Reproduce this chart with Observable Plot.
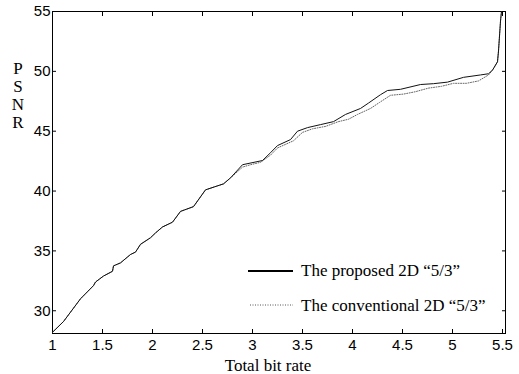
<!DOCTYPE html>
<html>
<head>
<meta charset="utf-8">
<script src="https://cdn.jsdelivr.net/npm/d3@7"></script>
<script src="https://cdn.jsdelivr.net/npm/@observablehq/plot@0.6"></script>
<style>
  html, body { margin: 0; padding: 0; background: #fff; }
  #wrap { position: relative; width: 519px; height: 374px; }
  #legend { position: absolute; left: 0; top: 0; pointer-events: none; }
</style>
</head>
<body>
<div id="wrap"></div>
<script>
const proposedX = [1.00, 1.11, 1.28, 1.41, 1.43, 1.51, 1.60, 1.61, 1.68, 1.78, 1.83, 1.88, 1.98, 2.03, 2.10, 2.20, 2.28, 2.41, 2.53, 2.71, 2.78, 2.90, 3.10, 3.18, 3.25, 3.38, 3.45, 3.55, 3.68, 3.81, 3.93, 4.08, 4.16, 4.28, 4.35, 4.48, 4.68, 4.81, 4.95, 5.11, 5.28, 5.36, 5.40, 5.45, 5.46, 5.48, 5.49];
const proposedY = [28.2, 29.1, 31.0, 32.1, 32.4, 32.9, 33.3, 33.75, 34.0, 34.7, 34.9, 35.55, 36.1, 36.5, 37.0, 37.4, 38.3, 38.7, 40.1, 40.6, 41.1, 42.2, 42.55, 43.2, 43.8, 44.3, 45.0, 45.3, 45.55, 45.8, 46.4, 46.9, 47.35, 48.05, 48.4, 48.5, 48.9, 48.97, 49.1, 49.5, 49.7, 49.8, 50.1, 50.8, 51.7, 54.2, 55.0];

const conventionalX = [1.00, 1.11, 1.28, 1.41, 1.43, 1.51, 1.60, 1.61, 1.68, 1.78, 1.83, 1.88, 1.98, 2.03, 2.10, 2.20, 2.28, 2.41, 2.53, 2.71, 2.78, 2.90, 2.98, 3.08, 3.18, 3.25, 3.41, 3.50, 3.60, 3.73, 3.86, 3.96, 4.05, 4.18, 4.27, 4.38, 4.51, 4.63, 4.76, 4.89, 5.01, 5.14, 5.26, 5.36, 5.40, 5.45, 5.46, 5.48, 5.49];
const conventionalY = [28.2, 29.1, 31.0, 32.1, 32.4, 32.9, 33.3, 33.75, 34.0, 34.7, 34.9, 35.55, 36.1, 36.5, 37.0, 37.4, 38.3, 38.7, 40.1, 40.6, 41.1, 42.0, 42.2, 42.4, 43.0, 43.6, 44.2, 44.9, 45.2, 45.4, 45.8, 46.0, 46.4, 46.9, 47.4, 48.0, 48.1, 48.3, 48.6, 48.75, 49.0, 49.0, 49.2, 49.7, 50.1, 50.8, 51.7, 54.2, 55.0];

const xTicks = [1, 1.5, 2, 2.5, 3, 3.5, 4, 4.5, 5, 5.5];
const xTickLabels = ["1", "1.5", "2", "2.5", "3", "3.5", "4", "4.5", "5", "5.5"];
const yTicks = [30, 35, 40, 45, 50, 55];
const yTickLabels = ["30", "35", "40", "45", "50", "55"];
const seriesNames = ["The proposed 2D \u201c5/3\u201d", "The conventional 2D \u201c5/3\u201d"];
const xLabel = "Total bit rate";
const yLabelLetters = ["P", "S", "N", "R"];

const proposed = proposedX.map((x, i) => ({x, y: proposedY[i]}));
const conventional = conventionalX.map((x, i) => ({x, y: conventionalY[i]}));

const sans = "'Liberation Sans', Arial, sans-serif";
const serif = "'Liberation Serif', 'Times New Roman', serif";

const chart = Plot.plot({
  width: 519,
  height: 374,
  marginLeft: 52,
  marginRight: 14,
  marginTop: 11,
  marginBottom: 41,
  style: {fontFamily: sans, fontSize: "15px", color: "#000", background: "#fff"},
  x: {domain: [1, 5.53]},
  y: {domain: [28.1, 55]},
  marks: [
    Plot.frame({stroke: "#000", strokeWidth: 1}),
    Plot.axisX(xTicks, {anchor: "bottom", tickSize: -4, text: null, label: null, stroke: "#000"}),
    Plot.axisX(xTicks, {anchor: "top", tickSize: -4, text: null, label: null, stroke: "#000"}),
    Plot.axisY(yTicks, {anchor: "left", tickSize: -4, text: null, label: null, stroke: "#000"}),
    Plot.axisY(yTicks, {anchor: "right", tickSize: -4, text: null, label: null, stroke: "#000"}),
    Plot.axisX(xTicks, {anchor: "bottom", tickSize: 0, tickPadding: 6, tickFormat: (d, i) => xTickLabels[i], label: null, fill: "#000", fontSize: 15}),
    Plot.axisY(yTicks, {anchor: "left", tickSize: 0, tickPadding: 2, tickFormat: (d, i) => yTickLabels[i], label: null, fill: "#000", fontSize: 15}),
    Plot.line(conventional, {x: "x", y: "y", stroke: "#666", strokeWidth: 1, strokeDasharray: "1,1.5"}),
    Plot.line(proposed, {x: "x", y: "y", stroke: "#111", strokeWidth: 1})
  ]
});

const wrap = document.getElementById("wrap");
wrap.appendChild(chart);

// Axis titles and legend overlay
const ns = "http://www.w3.org/2000/svg";
const ov = document.createElementNS(ns, "svg");
ov.setAttribute("id", "legend");
ov.setAttribute("width", 519);
ov.setAttribute("height", 374);
function addText(x, y, s, size, anchor) {
  const t = document.createElementNS(ns, "text");
  t.setAttribute("x", x);
  t.setAttribute("y", y);
  t.setAttribute("font-family", serif);
  t.setAttribute("font-size", size);
  t.setAttribute("text-anchor", anchor || "start");
  t.setAttribute("fill", "#000");
  t.textContent = s;
  ov.appendChild(t);
}
function addLine(x1, x2, y, dash, color, w) {
  const l = document.createElementNS(ns, "line");
  l.setAttribute("x1", x1); l.setAttribute("x2", x2);
  l.setAttribute("y1", y); l.setAttribute("y2", y);
  l.setAttribute("stroke", color);
  l.setAttribute("stroke-width", w);
  if (dash) l.setAttribute("stroke-dasharray", dash);
  ov.appendChild(l);
}
addText(268, 371, xLabel, 17, "middle");
yLabelLetters.forEach((c, i) => addText(18, 74 + i * 18, c, 17, "middle"));
addLine(248, 293, 271, null, "#000", 2);
addText(301, 276, seriesNames[0], 17);
addLine(250, 293, 305, "1,1.5", "#555", 1);
addText(301, 311, seriesNames[1], 17);
wrap.appendChild(ov);
</script>
</body>
</html>
